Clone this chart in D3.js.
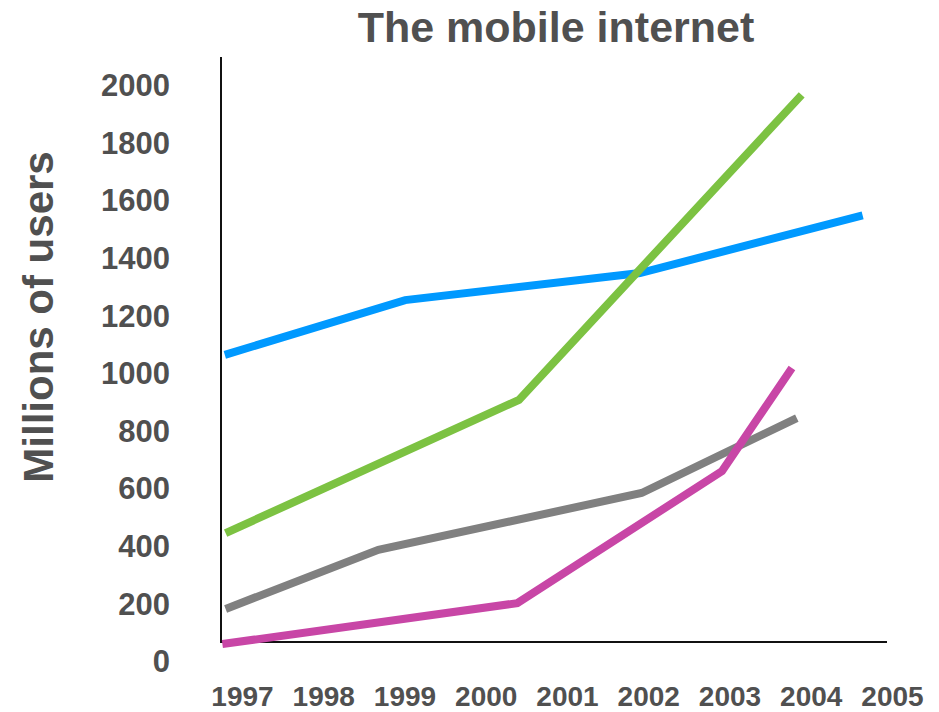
<!DOCTYPE html>
<html>
<head>
<meta charset="utf-8">
<script src="https://cdn.jsdelivr.net/npm/d3@7"></script>
<style>
  body { margin: 0; background: #fff; }
  text { font-family: "Liberation Sans", Arial, sans-serif; font-weight: bold; fill: #505050; }
</style>
</head>
<body>
<div id="chart"></div>
<script>
// data: [year, millions of users]
const tickYears = [1997, 1998, 1999, 2000, 2001, 2002, 2003, 2004, 2005]
const userTicks = [0, 200, 400, 600, 800, 1000, 1200, 1400, 1600, 1800, 2000]

const blueSeries  = [[1997.01, 1061], [1999.23, 1251], [2002.12, 1345], [2004.86, 1545]]
const greenSeries = [[1997.02, 443], [2000.63, 905], [2004.11, 1963]]
const greySeries  = [[1997.02, 180], [1998.90, 385], [2002.14, 582], [2004.05, 842]]
const pinkSeries  = [[1996.98, 58], [2000.61, 200], [2003.13, 658], [2003.99, 1016]]

const seriesList = [blueSeries, greenSeries, greySeries, pinkSeries]
const seriesColours = ["#0099ff", "#7cc242", "#808080", "#c846a6"]

function drawChart(){

    // 1. dimensions
    let dimensions = {
        width: 939,
        height: 712,
        plotLeft: 221,
        plotRight: 887,
        plotTop: 57,
        plotBottom: 642,
    }

    // 2. canvas
    const wrapper = d3.select("#chart")
      .append("svg")
        .attr("width", dimensions.width)
        .attr("height", dimensions.height)

    // 3. scales
    const xScale = d3.scaleLinear()
        .domain([1997, 2005])
        .range([224, 874])

    const yScale = d3.scaleLinear()
        .domain([0, 2000])
        .range([660.8, 84.2])

    // 4. frame lines
    wrapper.append("line")
        .attr("x1", dimensions.plotLeft).attr("x2", dimensions.plotLeft)
        .attr("y1", dimensions.plotTop).attr("y2", dimensions.plotBottom)
        .attr("stroke", "#111").attr("stroke-width", 2)

    wrapper.append("line")
        .attr("x1", dimensions.plotLeft - 1).attr("x2", dimensions.plotRight)
        .attr("y1", dimensions.plotBottom).attr("y2", dimensions.plotBottom)
        .attr("stroke", "#111").attr("stroke-width", 2)

    // 5. data lines
    const lineGenerator = d3.line()
        .x(d => xScale(d[0]))
        .y(d => yScale(d[1]))

    wrapper.append("g")
      .selectAll("path")
      .data(seriesList)
      .join("path")
        .attr("d", d => lineGenerator(d))
        .attr("fill", "none")
        .attr("stroke", (d, i) => seriesColours[i])
        .attr("stroke-width", 8)
        .attr("stroke-linecap", "butt")
        .attr("stroke-linejoin", "miter")

    // 6. peripherals
    const yAxisGenerator = d3.axisLeft(yScale)
        .tickValues(userTicks)
        .tickSize(0)
        .tickPadding(0)
        .tickFormat(d3.format("d"))

    const yAxis = wrapper.append("g")
        .attr("transform", "translate(170,0)")
        .call(yAxisGenerator)
    yAxis.select(".domain").remove()
    yAxis.selectAll("text")
        .attr("x", 0)
        .attr("dy", "0.36em")
        .style("font-size", "31px")
        .style("font-family", "'Liberation Sans', Arial, sans-serif")
        .attr("fill", "#505050")

    const xAxisGenerator = d3.axisBottom(xScale)
        .tickValues(tickYears)
        .tickSize(0)
        .tickPadding(0)
        .tickFormat(d3.format("d"))

    // labels sit a bit right of their year, as in the original
    const xAxis = wrapper.append("g")
        .attr("transform", "translate(18,706)")
        .call(xAxisGenerator)
    xAxis.select(".domain").remove()
    xAxis.selectAll("text")
        .attr("y", 0)
        .attr("dy", 0)
        .style("font-size", "28px")
        .style("font-family", "'Liberation Sans', Arial, sans-serif")
        .attr("fill", "#505050")

    wrapper.append("text")
        .attr("x", 556)
        .attr("y", 42)
        .attr("text-anchor", "middle")
        .style("font-size", "43px")
        .text("The mobile internet")

    wrapper.append("text")
        .attr("transform", "translate(53,317) rotate(-90)")
        .attr("text-anchor", "middle")
        .style("font-size", "42px")
        .text("Millions of users")
}

drawChart()
</script>
</body>
</html>
